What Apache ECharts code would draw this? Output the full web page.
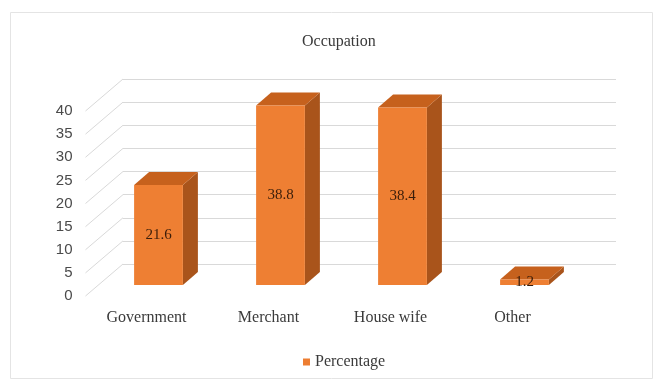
<!DOCTYPE html>
<html>
<head>
<meta charset="utf-8">
<style>
  html, body { margin: 0; padding: 0; background: #ffffff; }
  #chart { width: 659px; height: 384px; }
</style>
<script src="https://cdn.jsdelivr.net/npm/echarts@6/dist/echarts.min.js"></script>
</head>
<body>
<div id="chart"></div>
<script>
// Occupation breakdown (percent of respondents)
const categories = ['Government', 'Merchant', 'House wife', 'Other'];
const percentages = [21.6, 38.8, 38.4, 1.2];
const tickValues = [0, 5, 10, 15, 20, 25, 30, 35, 40];

// Pseudo-3D styling: depth vectors for the wall and for each column
const WALL_DX = 37.5, WALL_DY = -32;
const BAR_DX = 15, BAR_DY = -13;
const BAR_RATIO = 0.4;
const SERIF = '"Liberation Serif", "Times New Roman", serif';
const SANS = '"Liberation Sans", Arial, sans-serif';
const GRID_COLOR = '#d9d9d9';

const chart = echarts.init(document.getElementById('chart'), null, { renderer: 'canvas' });

const yMin = tickValues[0];
const yMax = tickValues[tickValues.length - 1];
const yStep = tickValues[1] - tickValues[0];

function renderWallEdge(params, api) {
  const y = api.coord([0, api.value(1)])[1];
  const x = params.coordSys.x;
  return {
    type: 'polyline',
    silent: true,
    shape: { points: [[x, y], [x + WALL_DX, y + WALL_DY]] },
    style: { stroke: GRID_COLOR, lineWidth: 1, fill: null }
  };
}

function renderColumn(params, api) {
  const idx = api.value(0);
  const val = api.value(1);
  const top = api.coord([idx, val]);
  const base = api.coord([idx, 0]);
  const w = api.size([1, 0])[0] * BAR_RATIO;
  const x0 = top[0] - w / 2;
  const x1 = x0 + w;
  const yt = top[1];
  const yb = base[1];
  return {
    type: 'group',
    children: [
      {
        type: 'polygon',
        shape: { points: [[x1, yt], [x1, yb], [x1 + BAR_DX, yb + BAR_DY], [x1 + BAR_DX, yt + BAR_DY]] },
        style: { fill: '#a9541b' }
      },
      {
        type: 'polygon',
        shape: { points: [[x0, yt], [x1, yt], [x1 + BAR_DX, yt + BAR_DY], [x0 + BAR_DX, yt + BAR_DY]] },
        style: { fill: '#c6611d' }
      },
      {
        type: 'rect',
        shape: { x: x0, y: yt, width: w, height: yb - yt },
        style: { fill: '#ee7f33' }
      },
      {
        type: 'text',
        x: (x0 + x1) / 2,
        y: (yt + yb) / 2,
        style: {
          text: String(val),
          fill: '#3a1d0a',
          font: '15px ' + SERIF,
          align: 'center',
          verticalAlign: 'middle'
        }
      }
    ]
  };
}

const option = {
  animation: false,
  backgroundColor: '#ffffff',
  title: {
    text: 'Occupation',
    left: 297,
    top: 29,
    textStyle: { fontFamily: SERIF, fontSize: 16, fontWeight: 'normal', color: '#3a3a3a' }
  },
  legend: {
    data: ['Percentage'],
    left: 298,
    top: 349,
    icon: 'rect',
    itemWidth: 7,
    itemHeight: 7,
    textStyle: { fontFamily: SERIF, fontSize: 16, color: '#3a3a3a' }
  },
  graphic: [{
    type: 'rect',
    silent: true,
    shape: { x: 10.5, y: 12.5, width: 642, height: 366 },
    style: { fill: null, stroke: '#e4e4e4', lineWidth: 1 }
  }],
  grid: [
    // back wall
    { left: 123, right: 43, top: 79, bottom: 120, outerBoundsMode: 'none', containLabel: false },
    // front edge (axis labels)
    { left: 85.5, right: 85.5, top: 111, bottom: 88, outerBoundsMode: 'none', containLabel: false },
    // columns
    { left: 97.5, right: 73.5, top: 100, bottom: 99, outerBoundsMode: 'none', containLabel: false }
  ],
  xAxis: [
    { gridIndex: 0, type: 'category', data: categories, show: false },
    {
      gridIndex: 1, type: 'category', data: categories, boundaryGap: true,
      axisLine: { show: false }, axisTick: { show: false }, splitLine: { show: false },
      axisLabel: { margin: 14, fontFamily: SERIF, fontSize: 16, color: '#3a3a3a', interval: 0 }
    },
    { gridIndex: 2, type: 'category', data: categories, boundaryGap: true, show: false }
  ],
  yAxis: [
    {
      gridIndex: 0, type: 'value', min: yMin, max: yMax, interval: yStep,
      axisLine: { show: false }, axisTick: { show: false }, axisLabel: { show: false },
      splitLine: { show: true, lineStyle: { color: GRID_COLOR, width: 1 } }
    },
    {
      gridIndex: 1, type: 'value', min: yMin, max: yMax, interval: yStep,
      axisLine: { show: false }, axisTick: { show: false }, splitLine: { show: false },
      axisLabel: { margin: 13, fontFamily: SANS, fontSize: 15, color: '#4a4a4a' }
    },
    { gridIndex: 2, type: 'value', min: yMin, max: yMax, show: false }
  ],
  series: [
    {
      type: 'custom',
      name: 'wall-edges',
      xAxisIndex: 1,
      yAxisIndex: 1,
      silent: true,
      renderItem: renderWallEdge,
      data: tickValues.map(v => [0, v]),
      z: 1
    },
    {
      type: 'custom',
      name: 'Percentage',
      xAxisIndex: 2,
      yAxisIndex: 2,
      itemStyle: { color: '#ed7d31' },
      renderItem: renderColumn,
      encode: { x: 0, y: 1 },
      data: percentages.map((v, i) => [i, v]),
      z: 3
    }
  ]
};

chart.setOption(option);
</script>
</body>
</html>
